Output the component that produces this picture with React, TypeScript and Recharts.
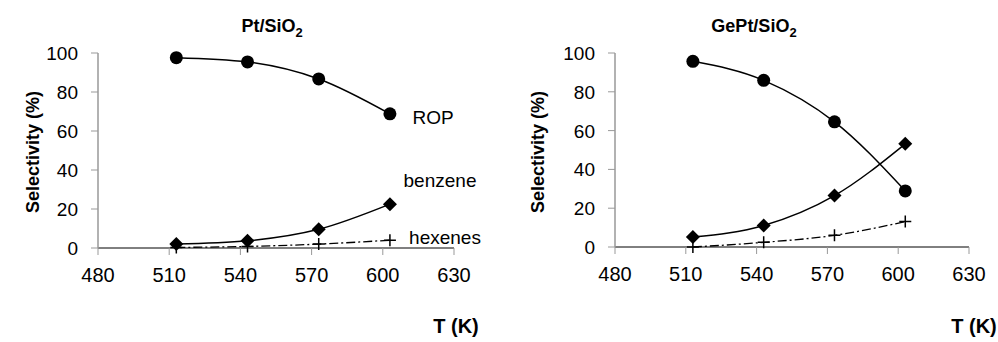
import React from 'react';
import { LineChart, Line, XAxis, YAxis } from 'recharts';

// temperature (K)
const temps = [513, 543, 573, 603];

// Pt/SiO2 selectivities (%)
const ptRop = [97.6, 95.4, 86.7, 68.8];
const ptBenzene = [2, 3.7, 9.6, 22.5];
const ptHexenes = [0.3, 0.8, 2, 4];

// GePt/SiO2 selectivities (%)
const gePtRop = [95.7, 85.9, 64.5, 28.9];
const gePtBenzene = [5.1, 11.1, 26.5, 53.2];
const gePtHexenes = [0, 2.4, 6, 13.1];

const xTicks = [480, 510, 540, 570, 600, 630];
const yTicks = [0, 20, 40, 60, 80, 100];

const W = 499;
const H = 342;
const FONT = '"Liberation Sans", Arial, sans-serif';

const Circle = (props: any) => {
  const { cx, cy, index } = props;
  return <circle key={`c-${index}`} cx={cx} cy={cy} r={6.5} fill="#000" />;
};

const Diamond = (props: any) => {
  const { cx, cy, index } = props;
  const s = 7;
  return (
    <polygon
      key={`d-${index}`}
      points={`${cx},${cy - s} ${cx + s},${cy} ${cx},${cy + s} ${cx - s},${cy}`}
      fill="#000"
    />
  );
};

const Plus = (props: any) => {
  const { cx, cy, index } = props;
  const s = 6;
  return (
    <path
      key={`p-${index}`}
      d={`M${cx - s},${cy} L${cx + s},${cy} M${cx},${cy - s} L${cx},${cy + s}`}
      stroke="#000"
      strokeWidth={1.5}
      fill="none"
    />
  );
};

const XTick = (props: any) => {
  const { x, y, payload } = props;
  return (
    <text x={x} y={y + 25} textAnchor="middle" fontFamily={FONT} fontSize={20} fill="#000">
      {payload.value}
    </text>
  );
};

const YTick = (props: any) => {
  const { x, y, payload } = props;
  return (
    <text x={x - 11} y={y + 7} textAnchor="end" fontFamily={FONT} fontSize={19} fill="#000">
      {payload.value}
    </text>
  );
};

const buildRows = (rop: number[], benzene: number[], hexenes: number[]) =>
  temps.map((t, i) => ({ t, rop: rop[i], benzene: benzene[i], hexenes: hexenes[i] }));

const Panel = ({ title, rop, benzene, hexenes, labels, margin }: any) => {
  const data = buildRows(rop, benzene, hexenes);
  return (
    <LineChart width={W} height={H} data={data} margin={margin}>
      <XAxis
        dataKey="t"
        type="number"
        domain={[480, 630]}
        ticks={xTicks}
        axisLine={{ stroke: '#000', strokeWidth: 1 }}
        tickLine={{ stroke: '#999' }}
        tickSize={7}
        tick={<XTick />}
        height={40}
      />
      <YAxis
        domain={[0, 100]}
        ticks={yTicks}
        axisLine={{ stroke: '#999', strokeWidth: 1.5 }}
        tickLine={{ stroke: '#999' }}
        tickSize={7}
        tick={<YTick />}
        width={60}
      />
      <Line dataKey="rop" type="monotone" stroke="#000" strokeWidth={1.5} dot={Circle} isAnimationActive={false} />
      <Line dataKey="benzene" type="monotone" stroke="#000" strokeWidth={1.5} dot={Diamond} isAnimationActive={false} />
      <Line
        dataKey="hexenes"
        type="monotone"
        stroke="#000"
        strokeWidth={1.3}
        strokeDasharray="9 3 2 3"
        dot={Plus}
        isAnimationActive={false}
      />
      <text x={title.x} y={32} textAnchor="middle" fontFamily={FONT} fontWeight="bold" fontSize={18} fill="#000">
        {title.main}
        <tspan fontSize={13} dy={5}>2</tspan>
      </text>
      <text
        x={title.yx}
        y={152}
        transform={`rotate(-90 ${title.yx} 152)`}
        textAnchor="middle"
        dominantBaseline="central"
        fontFamily={FONT}
        fontWeight="bold"
        fontSize={18}
        fill="#000"
      >
        Selectivity (%)
      </text>
      <text x={title.tx} y={333} textAnchor="middle" fontFamily={FONT} fontWeight="bold" fontSize={20} fill="#000">
        T (K)
      </text>
      {labels &&
        labels.map((l: any) => (
          <text key={l.text} x={l.x} y={l.y} textAnchor="middle" fontFamily={FONT} fontSize={19} fill="#000">
            {l.text}
          </text>
        ))}
    </LineChart>
  );
};

const ptLabels = [
  { text: 'ROP', x: 433, y: 124 },
  { text: 'benzene', x: 440, y: 187 },
  { text: 'hexenes', x: 445, y: 244 },
];

export default function App() {
  return (
    <div style={{ position: 'absolute', left: 0, top: 0, width: 998, height: 342, display: 'flex', background: '#fff' }}>
      <Panel
        title={{ main: 'Pt/SiO', x: 272, tx: 456, yx: 33 }}
        margin={{ top: 53, right: 45, left: 38, bottom: 54 }}
        rop={ptRop}
        benzene={ptBenzene}
        hexenes={ptHexenes}
        labels={ptLabels}
      />
      <div style={{ marginLeft: -1 }}>
        <Panel
          title={{ main: 'GePt/SiO', x: 256, tx: 476, yx: 40 }}
          margin={{ top: 53, right: 28, left: 57, bottom: 55 }}
          rop={gePtRop}
          benzene={gePtBenzene}
          hexenes={gePtHexenes}
        />
      </div>
    </div>
  );
}
